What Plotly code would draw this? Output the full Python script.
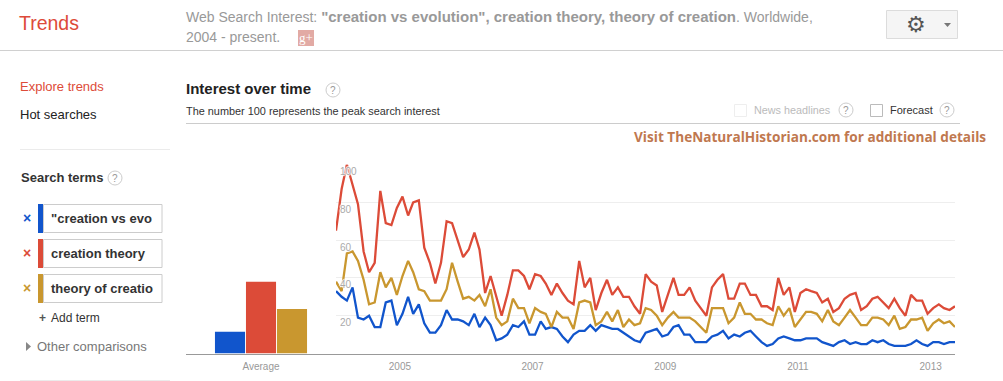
import pandas as pd
import plotly.graph_objects as go

W, H = 1003, 381

months = [d.strftime("%Y-%m-%d") for d in pd.date_range("2004-01-01", periods=113, freq="MS")]

creation_vs_evolution = [33,30,28,35,19,18,20,14,14,27,28,15,21,30,21,26,16,11,11,15,23,18,18,17,15,21,14,19,15,7,
                         8,10,15,14,17,10,10,17,13,14,13,9,6,10,12,12,15,12,15,14,13,13,11,9,7,6,11,12,13,9,
                         10,14,15,10,10,6,6,6,9,10,12,8,10,9,11,12,9,6,4,5,8,9,8,7,7,8,8,8,6,5,
                         4,6,7,5,6,5,5,7,6,7,5,4,4,4,5,7,5,4,6,6,5,6,6]
creation_theory = [65,87,100,90,79,54,43,48,86,69,68,77,83,73,80,81,56,48,37,48,70,69,60,51,55,64,55,32,41,30,
                   20,31,44,44,41,34,42,41,37,31,37,32,28,26,49,35,40,23,32,39,31,35,30,30,25,21,42,38,36,22,
                   31,40,31,31,35,28,24,20,35,39,42,29,29,37,37,31,31,25,25,23,40,31,35,22,32,34,33,32,27,29,
                   22,24,29,31,32,23,25,29,30,27,24,29,24,20,31,28,28,21,24,26,24,23,25]
theory_of_creation = [38,33,53,54,49,39,26,27,43,35,40,31,41,49,43,34,33,28,28,28,34,48,38,29,30,28,31,25,34,19,
                      15,17,29,24,24,16,24,22,21,14,22,19,19,13,27,28,27,15,17,22,17,23,14,18,15,16,24,23,20,15,
                      19,22,19,19,19,17,14,11,24,24,24,16,19,27,21,21,18,18,16,15,25,20,24,14,18,22,22,21,17,23,
                      17,15,19,23,19,15,15,19,19,18,15,20,13,14,18,18,19,12,16,18,16,17,14]
average_label = ["Average"]
average_vs_evolution = [11.5]
average_theory = [38]
average_of_creation = [23.5]

y_ticks = [20, 40, 60, 80, 100]
year_positions = ["2004-12-18", "2006-12-18", "2008-12-18", "2010-12-18", "2012-12-18"]
year_labels = ["2005", "2007", "2009", "2011", "2013"]

BLUE, RED, GOLD = "#1155cc", "#dc4b38", "#c9972f"
FONT = "Liberation Sans"
HALO = "1px 0 1px white, -1px 0 1px white, 0 1px 1px white, 0 -1px 1px white"

def px(x): return x / W
def py(y): return 1 - y / H

annotations, shapes = [], []

def text(x, y, s, size=12, color="#333", anchor="left", family=FONT):
    annotations.append(dict(x=px(x), y=py(y), xref="paper", yref="paper", text=s, showarrow=False,
                            xanchor=anchor, yanchor="middle", xshift=0, yshift=0,
                            font=dict(family=family, size=size, color=color),
                            borderpad=0, borderwidth=0))

def rect(x0, y0, x1, y1, fill="rgba(0,0,0,0)", line=None, w=1):
    shapes.append(dict(type="rect", xref="paper", yref="paper", x0=px(x0), x1=px(x1), y0=py(y0), y1=py(y1),
                       fillcolor=fill, line=dict(color=line or "rgba(0,0,0,0)", width=w if line else 0)))

def hline(x0, x1, y, color, w=1):
    shapes.append(dict(type="line", xref="paper", yref="paper", x0=px(x0), x1=px(x1), y0=py(y), y1=py(y),
                       line=dict(color=color, width=w)))

def help_icon(x, y):
    shapes.append(dict(type="circle", xref="paper", yref="paper", x0=px(x-7), x1=px(x+7), y0=py(y-7), y1=py(y+7),
                       fillcolor="white", line=dict(color="#ccc", width=1)))
    text(x, y, "?", 10, "#999", "center")

def triangle(points, color):
    path = "M" + " L".join(f"{px(a):.5f},{py(b):.5f}" for a, b in points) + " Z"
    shapes.append(dict(type="path", xref="paper", yref="paper", path=path, fillcolor=color, line=dict(width=0)))

# header
text(19, 23, "Trends", 19.5, "#dd4b39")
text(186, 16, 'Web Search Interest: <b><span style="font-size:15px">"creation vs evolution", creation theory, theory of creation</span></b>. Worldwide,', 14, "#999")
text(186, 37, "2004 - present.", 14, "#999")
rect(298, 30, 314, 46, "#e2aaa4")
text(306, 38, "g+", 13, "white", "center", "Liberation Serif")
hline(0, 1003, 50.5, "#d0d0d0")
rect(886.5, 10.5, 957.5, 38.5, "#f5f5f5", "#dcdcdc")
text(916, 24, "⚙", 22, "#555", "center", "DejaVu Sans")
triangle([(944, 23), (951, 23), (947.5, 27)], "#777")

# left navigation
text(20, 86.5, "Explore trends", 13, "#dd4b39")
text(20, 114.5, "Hot searches", 13, "#222")
hline(20, 170, 149.5, "#ebebeb")
text(21, 177, "<b>Search terms</b>", 13, "#333")
help_icon(115, 178)
terms = [('"creation vs evo', BLUE, 204), ("creation theory", RED, 239), ("theory of creatio", GOLD, 274)]
for label, color, top in terms:
    rect(43.5, top + .5, 162, top + 28.5, "white", "#ccc")
    rect(38, top, 43, top + 29, color)
    text(51, top + 14.5, f"<b>{label}</b>", 13, "#333")
    text(27, top + 14, "<b>×</b>", 14, color, "center")
text(42, 318, "<b>+</b>", 12, "#555", "center")
text(51, 318, "Add term", 12, "#333")
triangle([(26, 342), (31, 346.5), (26, 351)], "#888")
text(37, 346.5, "Other comparisons", 13, "#777")
hline(20, 170, 380.5, "#ebebeb")

# chart header
text(186, 89, "<b>Interest over time</b>", 15, "#222")
help_icon(333, 90)
text(186, 111, "The number 100 represents the peak search interest", 10.9, "#333")
hline(186, 960, 123.5, "#ccc")
rect(734.5, 104.5, 746.5, 116.5, "white", "#eee")
text(754, 110, "News headlines", 10.8, "#bbb")
help_icon(846, 110)
rect(870.5, 104.5, 882.5, 116.5, "white", "#bbb")
text(890, 110, "Forecast", 11, "#333")
help_icon(947, 110)
text(634, 137, "<b>Visit TheNaturalHistorian.com for additional details</b>", 13.6, "#c0784f", family="Open Sans")

fig = go.Figure()
for name, vals, color in [("creation vs evolution", creation_vs_evolution, BLUE),
                          ("creation theory", creation_theory, RED),
                          ("theory of creation", theory_of_creation, GOLD)]:
    fig.add_trace(go.Scatter(x=months, y=vals, mode="lines", name=name, line=dict(color=color, width=2.3),
                             xaxis="x", yaxis="y"))
for vals, color in [(average_vs_evolution, BLUE), (average_theory, RED), (average_of_creation, GOLD)]:
    fig.add_trace(go.Bar(x=average_label, y=vals, marker=dict(color=color, line=dict(width=0)),
                         xaxis="x2", yaxis="y2"))

fig.update_layout(
    width=W, height=H, margin=dict(l=0, r=0, t=0, b=0), showlegend=False,
    paper_bgcolor="white", plot_bgcolor="white", barmode="group", bargap=0.38, bargroupgap=0.03,
    annotations=annotations, shapes=shapes,
    xaxis=dict(domain=[px(336), px(955)], type="date", range=[months[0], months[-1]], anchor="y",
               tickmode="array", tickvals=year_positions, ticktext=year_labels, ticks="", showgrid=False,
               showline=True, linecolor="#999", linewidth=1, zeroline=False, ticklabelstandoff=3,
               tickfont=dict(family=FONT, size=10, color="#999")),
    xaxis2=dict(domain=[px(186), px(336)], anchor="y2", ticks="", showgrid=False, showline=True,
                linecolor="#999", linewidth=1, zeroline=False, ticklabelstandoff=3,
                tickfont=dict(family=FONT, size=10, color="#999")),
    yaxis=dict(domain=[py(353.5), py(164.5)], range=[0, 100], anchor="x", tickmode="array", tickvals=y_ticks,
               ticks="", showline=False, zeroline=False, gridcolor="#eeeeee", gridwidth=1,
               ticklabelposition="inside", ticklabelshift=7, ticklabelstandoff=1,
               tickfont=dict(family=FONT, size=10, color="#aaa", shadow=HALO)),
    yaxis2=dict(domain=[py(353.5), py(164.5)], range=[0, 100], anchor="x2", visible=False),
)

fig.write_html("out.html", config={"displayModeBar": False},
               post_script="document.body.style.margin='0';document.body.style.overflow='hidden';")
